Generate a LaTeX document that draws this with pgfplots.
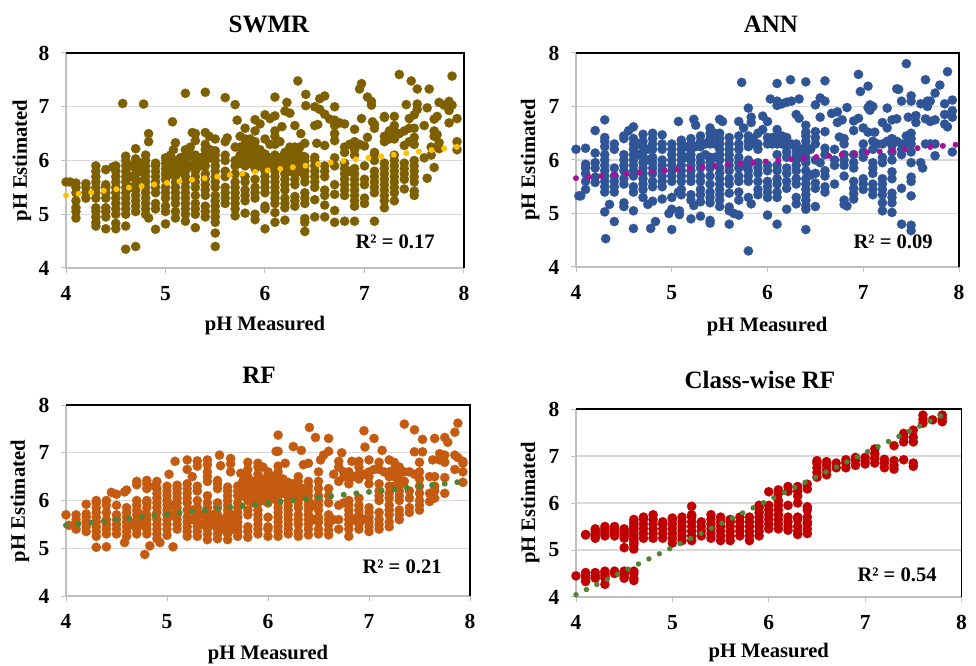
\documentclass[border=0pt]{standalone}
\usepackage{pgfplots}
\pgfplotsset{compat=1.18}
\usepackage{fontspec}
\setmainfont{Liberation Serif}
\definecolor{axgray}{HTML}{BFBFBF}
\definecolor{grgray}{HTML}{D9D9D9}
\definecolor{cA}{HTML}{7F6000}
\definecolor{tA}{HTML}{FFC000}
\definecolor{cB}{HTML}{2F5597}
\definecolor{tB}{HTML}{A5129A}
\definecolor{cC}{HTML}{C55A11}
\definecolor{tC}{HTML}{548235}
\definecolor{cD}{HTML}{C00000}
\definecolor{tD}{HTML}{548235}
\newcommand{\tf}{\bfseries\fontsize{21.5bp}{24bp}\selectfont}
\newcommand{\lf}{\bfseries\fontsize{20.6bp}{24bp}\selectfont}
\newcommand{\Tf}{\bfseries\fontsize{25bp}{28bp}\selectfont}
\pgfplotsset{
 panel/.style={
  scale only axis, anchor=south west, clip=false,
  xmin=4,xmax=8,ymin=4,ymax=8,
  xtick={4,5,6,7,8},ytick={4,5,6,7,8},
  xtick pos=bottom, ytick pos=left,
  axis line style={draw=none},
  tick align=outside, major tick length=5bp,
  tick style={color=axgray,line width=1bp},
  ymajorgrids, major grid style={color=grgray,line width=1.2bp},
  /pgf/number format/assume math mode=true,
  tick label style={font=\tf},
  yticklabel style={xshift=-8bp},
  xticklabel style={yshift=-10bp},
  title style={font=\Tf,anchor=center},
  xlabel style={font=\lf,anchor=center},
  ylabel style={font=\lf,anchor=center},
 },
 over/.style={scale only axis, anchor=south west, clip=false, xmin=4,xmax=8,ymin=4,ymax=8, hide axis},
 pts/.style={only marks,mark=*,mark size=4.7bp,color=#1,mark options={draw=#1,fill=#1,line width=0.1bp}},
 trend/.style={no markers,draw=#1,line width=6bp,line cap=round,dash pattern=on 0pt off 12.7bp},
 lgray/.style={no markers,draw=axgray,line width=1.5bp},
 lblack/.style={no markers,draw=black,line width=1.3bp},
}
\begin{document}
\begin{tikzpicture}
\useasboundingbox (0,0) rectangle (976bp,666bp);
%---------------- SWMR
\begin{axis}[panel,at={(66bp,398bp)},width=398bp,height=215bp,
 title={SWMR},title style={at={(axis description cs:0.51,1.105)}},
 xlabel={pH Measured},xlabel style={at={(axis description cs:0.5,-0.27)}},
 ylabel={pH Estimated},ylabel style={at={(axis description cs:-0.111,0.5)}}]
\addplot[lgray] coordinates {(4,8)(4,4)(8,4)};
\addplot[lblack] coordinates {(4,8)(8,8)(8,4)};
\addplot[pts=cA] coordinates {
(4,5.6)(4.04,5.6)
(4.1,4.93)(4.1,5.05)(4.1,5.12)(4.1,5.25)(4.1,5.4)(4.1,5.5)(4.1,5.58)
(4.2,5.3)(4.2,5.4)(4.2,5.5)(4.2,5.57)
(4.3,4.78)(4.3,4.85)(4.3,4.95)(4.3,5.05)(4.3,5.12)(4.3,5.3)(4.3,5.4)(4.3,5.5)(4.3,5.6)(4.3,5.7)(4.3,5.8)(4.3,5.9)
(4.4,4.73)(4.4,4.95)(4.4,5.05)(4.4,5.12)(4.4,5.3)(4.4,5.4)(4.4,5.5)(4.4,5.55)(4.4,5.83)(4.47,5.88)
(4.5,4.73)(4.5,4.83)(4.5,5)(4.5,5.1)(4.5,5.2)(4.5,5.3)(4.5,5.4)(4.5,5.5)(4.5,5.6)(4.5,5.7)(4.5,5.8)(4.5,5.9)
(4.57,7.06)
(4.6,4.35)(4.6,4.78)(4.6,5)(4.6,5.1)(4.6,5.2)(4.6,5.3)(4.6,5.4)(4.6,5.5)(4.6,5.6)(4.6,5.7)(4.6,5.8)(4.6,5.9)(4.6,6)(4.6,6.08)
(4.7,4.4)(4.7,5.05)(4.7,5.15)(4.7,5.25)(4.7,5.35)(4.7,5.45)(4.7,5.55)(4.7,5.65)(4.7,5.75)(4.7,5.85)(4.7,5.95)(4.7,6.03)(4.7,6.22)
(4.78,7.05)
(4.8,5)(4.8,5.1)(4.8,5.2)(4.8,5.3)(4.8,5.4)(4.8,5.5)(4.8,5.6)(4.8,5.7)(4.8,5.8)(4.8,5.9)(4.8,6)(4.8,6.1)(4.83,6.35)(4.83,6.5)(4.83,4.93)
(4.9,4.72)(4.9,5.1)(4.9,5.2)(4.9,5.4)(4.9,5.5)(4.9,5.6)(4.9,5.7)(4.9,5.8)(4.9,5.9)(4.9,5.95)
(5,4.82)(5,5.05)(5,5.15)(5,5.3)(5,5.4)(5,5.5)(5,5.65)(5,5.75)(5,5.85)(5,5.95)(5,6.05)
(5.07,6.72)(5.05,6.1)(5.08,6.2)
(5.1,4.93)(5.1,5.05)(5.1,5.2)(5.1,5.3)(5.1,5.4)(5.1,5.5)(5.1,5.6)(5.1,5.7)(5.1,5.8)(5.1,5.9)(5.1,6)(5.1,6.33)
(5.2,4.87)(5.2,5)(5.2,5.1)(5.2,5.2)(5.2,5.3)(5.2,5.4)(5.2,5.5)(5.2,5.6)(5.2,5.7)(5.2,5.8)(5.2,5.9)(5.2,6)(5.2,6.1)(5.2,6.2)(5.2,7.25)
(5.25,6.25)(5.27,6.52)
(5.3,4.75)(5.3,5)(5.3,5.1)(5.3,5.2)(5.3,5.35)(5.3,5.5)(5.3,5.6)(5.3,5.7)(5.3,5.8)(5.3,5.9)(5.3,6)(5.3,6.1)(5.3,6.37)(5.3,6.5)
(5.4,4.95)(5.4,5.05)(5.4,5.15)(5.4,5.35)(5.4,5.45)(5.4,5.55)(5.4,5.65)(5.4,5.75)(5.4,5.9)(5.4,6)(5.4,6.1)(5.4,6.2)(5.4,6.3)(5.4,6.52)(5.4,7.27)
(5.44,6.45)
(5.5,4.4)(5.5,4.65)(5.5,4.85)(5.5,4.95)(5.5,5.05)(5.5,5.15)(5.5,5.25)(5.5,5.35)(5.5,5.5)(5.5,5.6)(5.5,5.7)(5.5,5.8)(5.5,5.9)(5.5,6)(5.5,6.1)(5.5,6.18)(5.5,6.4)
(5.6,5.2)(5.6,5.3)(5.6,5.4)(5.6,5.5)(5.6,5.7)(5.6,5.8)(5.6,6)(5.6,6.1)(5.6,6.35)(5.6,7.17)(5.62,6.42)
(5.7,4.97)(5.7,5.1)(5.7,5.2)(5.7,5.3)(5.7,5.4)(5.7,5.5)(5.7,5.6)(5.7,5.75)(5.7,5.9)(5.7,6)(5.7,6.25)(5.7,7.04)(5.72,6.75)(5.75,6.45)
(5.8,5.02)(5.8,5.25)(5.8,5.35)(5.8,5.45)(5.8,5.6)(5.8,5.7)(5.8,5.9)(5.8,6)(5.8,6.1)(5.8,6.2)(5.8,6.3)(5.8,6.4)(5.8,6.6)
(5.9,4.9)(5.9,5)(5.9,5.3)(5.9,5.4)(5.9,5.5)(5.9,5.65)(5.9,5.85)(5.9,5.95)(5.9,6.05)(5.9,6.15)(5.9,6.25)(5.9,6.35)(5.9,6.55)(5.9,6.76)(5.95,6.68)
(6,4.73)(6,5.1)(6,5.15)(6,5.4)(6,5.5)(6,5.6)(6,5.7)(6,5.8)(6,5.9)(6,6)(6,6.12)(6,6.4)(6,6.85)
(6.1,4.85)(6.1,5.03)(6.1,5.2)(6.1,5.3)(6.1,5.4)(6.1,5.5)(6.1,5.6)(6.1,5.7)(6.1,5.8)(6.1,5.9)(6.1,6)(6.1,6.1)(6.1,6.3)(6.1,6.45)(6.1,6.55)(6.1,6.83)(6.1,7.18)
(6.05,6.78)(6.17,6.63)
(6.2,4.89)(6.2,5.12)(6.2,5.2)(6.2,5.3)(6.2,5.45)(6.2,5.55)(6.2,5.65)(6.2,5.75)(6.2,5.85)(6.2,5.95)(6.2,6.05)(6.2,6.15)(6.2,6.92)(6.25,6.88)(6.22,7.08)
(6.3,5.15)(6.3,5.25)(6.3,5.33)(6.3,5.55)(6.3,5.65)(6.3,5.75)(6.3,5.85)(6.3,5.95)(6.3,6.05)(6.3,6.15)(6.3,6.25)(6.3,6.65)(6.33,7.48)(6.36,6.5)
(6.4,4.68)(6.4,4.85)(6.4,4.92)(6.4,5.2)(6.4,5.3)(6.4,5.4)(6.4,5.6)(6.4,5.7)(6.4,5.8)(6.4,5.9)(6.4,6)(6.4,6.07)(6.4,6.32)(6.41,7.02)(6.41,7.23)
(6.5,4.95)(6.5,5.27)(6.5,5.5)(6.5,5.6)(6.5,5.7)(6.5,5.8)(6.5,5.9)(6.5,6)(6.5,6.06)(6.5,6.65)(6.5,7)
(6.52,6.32)(6.53,6.67)(6.55,6.95)(6.55,7.15)(6.6,7.2)
(6.6,4.95)(6.6,5.17)(6.6,5.35)(6.6,5.45)(6.6,5.7)(6.6,5.8)(6.6,5.9)(6.6,6.28)(6.6,6.86)(6.65,6.77)
(6.7,4.85)(6.7,5.07)(6.7,5.37)(6.7,5.55)(6.7,5.9)(6.7,6.05)(6.7,6.37)(6.7,6.5)(6.7,6.65)(6.7,6.75)(6.7,7)(6.75,6.7)
(6.8,4.87)(6.8,5.35)(6.8,5.45)(6.8,5.55)(6.8,5.65)(6.8,5.75)(6.8,5.85)(6.8,5.95)(6.8,6.15)(6.8,6.25)(6.8,6.68)
(6.9,4.87)(6.9,5.15)(6.9,5.25)(6.9,5.35)(6.9,5.45)(6.9,5.55)(6.9,5.65)(6.9,5.75)(6.9,5.85)(6.9,6.1)(6.9,6.2)(6.9,6.35)(6.9,6.58)
(6.95,7.33)(6.97,7.43)(6.97,6.78)
(7,5.2)(7,5.3)(7,5.55)(7,5.65)(7,5.9)(7,6.27)(7.03,6.43)(7.03,7.18)(7.07,7.1)(7.07,7.03)
(7.1,4.87)(7.1,5.4)(7.1,5.5)(7.1,5.6)(7.1,5.7)(7.1,5.8)(7.1,6)(7.1,6.1)(7.1,6.15)(7.1,6.6)(7.1,6.67)(7.08,6.72)
(7.2,5.12)(7.2,5.25)(7.2,5.35)(7.2,5.45)(7.2,5.55)(7.2,5.65)(7.2,5.75)(7.2,5.85)(7.2,5.95)(7.2,6.35)(7.2,6.45)(7.2,6.8)(7.2,6.82)
(7.3,5.25)(7.3,5.4)(7.3,5.5)(7.3,5.6)(7.3,5.7)(7.3,5.8)(7.3,5.9)(7.3,6)(7.3,6.1)(7.3,6.4)(7.3,6.55)(7.3,6.65)(7.3,6.82)(7.35,7.6)
(7.4,5.47)(7.4,5.65)(7.4,5.75)(7.4,5.85)(7.4,5.95)(7.4,6.28)(7.4,6.55)(7.42,7.04)(7.45,6.78)(7.47,7.48)
(7.5,6.85)(7.5,5.35)(7.5,5.43)(7.5,5.6)(7.5,5.7)(7.5,5.8)(7.5,5.9)(7.5,6)(7.5,6.3)(7.5,6.43)(7.5,6.6)(7.53,7.05)(7.53,6.95)(7.53,7.33)
(7.6,6.05)(7.6,6.65)(7.65,7.33)(7.63,5.67)(7.67,6.1)(7.67,6.25)(7.63,6.98)
(7.7,5.87)(7.7,6.45)(7.7,6.55)(7.7,6.77)(7.73,6.82)(7.73,6.48)(7.75,7.08)(7.75,6.22)(7.75,6.33)(7.8,7.03)
(7.85,7.08)(7.85,7.1)(7.85,7)(7.85,6.93)(7.85,6.7)(7.88,7.57)(7.88,7.03)(7.93,6.2)(7.93,6.35)(7.93,6.78)
(5.05,5.75)(5.05,5.85)(5.05,5.95)(5.05,6)(5.15,5.8)(5.15,5.95)(5.15,6.05)(5.25,5.9)(5.25,6.1)(5.35,5.9)(5.35,6.05)(5.45,6.05)(5.45,6.2)
(5.75,5.95)(5.75,6.1)(5.75,6.25)(5.85,5.95)(5.85,6.1)(5.85,6.25)(5.85,6.4)(5.95,5.9)(5.95,6.05)(5.95,6.2)(6.05,5.9)(6.05,6.05)(6.05,6.3)
(6.15,5.9)(6.15,6.05)(6.15,6.35)(6.25,5.8)(6.25,5.95)(6.25,6.1)(6.25,6.25)(6.35,5.8)(6.35,5.95)(6.35,6.1)(6.35,6.25)
(6.85,6.3)(6.85,5.8)(6.95,6.3)(7.25,6.55)(7.25,6.4)(7.35,6.5)(7.45,6.35)(7.45,6.6)(4.65,5.5)(4.65,5.7)(4.65,5.9)(4.75,5.6)(4.75,5.8)(4.75,5.95)
};
\node[font=\lf] at (axis description cs:0.827,0.122) {R² = 0.17};
\end{axis}
\begin{axis}[over,at={(66bp,398bp)},width=398bp,height=215bp]
\addplot[trend=tA] coordinates {(4,5.35)(8,6.27)};
\end{axis}
%---------------- ANN
\begin{axis}[panel,at={(576bp,399bp)},width=383bp,height=214bp,
 title={ANN},title style={at={(axis description cs:0.509,1.106)}},
 xlabel={pH Measured},xlabel style={at={(axis description cs:0.499,-0.276)}},
 ylabel={pH Estimated},ylabel style={at={(axis description cs:-0.12,0.5)}}]
\addplot[lgray] coordinates {(4,8)(4,4)(8,4)};
\addplot[lblack] coordinates {(4,8)(8,8)(8,4)};
\addplot[pts=cB] coordinates {
(4,6.2)(4.03,5.33)(4.05,5.33)
(4.1,5.45)(4.1,5.6)(4.1,5.75)(4.1,5.85)(4.1,5.92)(4.1,6.22)
(4.2,5.58)(4.2,5.68)(4.2,5.85)(4.2,5.95)(4.2,6.13)(4.2,6.55)
(4.3,5.03)(4.31,4.53)(4.3,5.4)(4.3,5.5)(4.3,5.6)(4.3,5.7)(4.3,5.8)(4.3,5.9)(4.3,6)(4.3,6.1)(4.3,6.25)(4.3,6.35)(4.3,6.42)(4.3,6.75)(4.35,5.17)
(4.4,4.85)(4.4,5.4)(4.4,5.5)(4.4,5.6)(4.4,5.7)(4.4,5.85)(4.4,6.2)(4.4,6.3)
(4.5,5.13)(4.5,5.2)(4.5,5.55)(4.5,5.65)(4.5,5.8)(4.5,5.9)(4.5,6)(4.5,6.1)(4.5,6.4)(4.5,6.45)(4.55,6.55)
(4.6,4.72)(4.6,5.05)(4.6,5.4)(4.6,5.5)(4.6,5.7)(4.6,5.8)(4.6,5.9)(4.6,6)(4.6,6.1)(4.6,6.2)(4.6,6.3)(4.6,6.4)(4.6,6.62)
(4.7,5.3)(4.7,5.45)(4.7,5.55)(4.7,5.65)(4.7,5.75)(4.7,5.85)(4.7,5.95)(4.7,6.05)(4.7,6.15)(4.7,6.25)(4.7,6.35)(4.7,6.48)(4.75,5.17)(4.78,4.72)
(4.8,5.23)(4.8,5.5)(4.8,5.6)(4.8,5.75)(4.8,5.85)(4.8,5.95)(4.8,6.05)(4.8,6.2)(4.8,6.3)(4.8,6.4)(4.8,6.5)(4.83,4.85)
(4.9,5.27)(4.9,5.5)(4.9,5.6)(4.9,5.7)(4.9,5.8)(4.9,5.9)(4.9,6)(4.9,6.2)(4.9,6.3)(4.9,6.47)(4.97,5)
(5,4.7)(5,5.08)(5,5.3)(5,5.6)(5,5.7)(5,5.8)(5,5.9)(5,6)(5,6.1)(5,6.2)(5,6.3)
(5.08,5.05)(5.08,4.98)(5.07,5.4)(5.07,6.72)
(5.1,5.35)(5.1,5.45)(5.1,5.6)(5.1,5.7)(5.1,5.8)(5.1,5.9)(5.1,6)(5.1,6.1)(5.1,6.2)(5.1,6.3)(5.1,6.37)
(5.2,4.9)(5.2,5.25)(5.2,5.35)(5.2,5.6)(5.2,5.7)(5.2,5.8)(5.2,5.9)(5.2,6)(5.2,6.1)(5.2,6.2)(5.2,6.3)(5.2,6.4)(5.23,5.15)(5.23,6.76)(5.25,6.65)
(5.3,4.95)(5.3,5.22)(5.3,5.35)(5.3,5.45)(5.3,5.6)(5.3,5.7)(5.3,5.85)(5.3,5.95)(5.3,6.05)(5.3,6.25)(5.3,6.35)(5.3,6.45)
(5.4,4.82)(5.4,4.87)(5.4,5.2)(5.4,5.3)(5.4,5.4)(5.4,5.55)(5.4,5.7)(5.4,5.85)(5.4,5.95)(5.4,6.05)(5.4,6.3)(5.4,6.4)(5.4,6.5)(5.4,6.6)
(5.5,5.13)(5.5,5.25)(5.5,5.35)(5.5,5.45)(5.5,5.55)(5.5,5.65)(5.5,5.75)(5.5,5.85)(5.5,6)(5.5,6.1)(5.5,6.2)(5.5,6.3)(5.5,6.4)(5.5,6.5)(5.5,6.76)(5.53,6.72)
(5.6,4.8)(5.6,5.05)(5.6,5.12)(5.6,5.38)(5.6,5.55)(5.6,5.65)(5.6,5.8)(5.6,5.9)(5.6,6)(5.6,6.1)(5.6,6.2)(5.6,6.3)(5.6,6.42)(5.65,5)
(5.7,4.97)(5.7,5.25)(5.7,5.4)(5.7,5.6)(5.7,5.7)(5.7,5.85)(5.7,5.95)(5.7,6.05)(5.7,6.2)(5.7,6.3)(5.7,6.45)(5.7,6.72)(5.73,7.45)(5.75,6.6)
(5.8,4.3)(5.8,5.3)(5.8,5.6)(5.8,5.7)(5.8,5.8)(5.8,5.9)(5.8,6)(5.8,6.25)(5.8,6.35)(5.8,6.45)(5.8,6.97)(5.83,5.18)(5.83,6.7)(5.83,6.8)
(5.9,5.35)(5.9,5.45)(5.9,5.6)(5.9,5.75)(5.9,5.85)(5.9,5.95)(5.9,6.2)(5.9,6.3)(5.9,6.5)(5.95,6.82)(5.95,6.57)
(6,4.97)(6,5.3)(6,5.4)(6,5.5)(6,5.6)(6,5.8)(6,5.9)(6,6.3)(6,6.42)(6,6.72)(6.03,7.14)
(6.1,4.8)(6.1,5.3)(6.1,5.4)(6.1,5.55)(6.1,5.65)(6.1,5.8)(6.1,5.9)(6.1,6.1)(6.1,6.3)(6.1,6.45)(6.1,6.57)(6.1,7.43)(6.1,7.1)(6.1,7.02)(6.15,7.05)
(6.2,5.08)(6.2,5.47)(6.2,5.6)(6.2,5.75)(6.2,5.85)(6.2,6.05)(6.2,6.15)(6.2,6.25)(6.2,6.42)(6.2,7.08)(6.24,7.5)(6.25,7.1)
(6.3,5.18)(6.3,5.3)(6.3,5.55)(6.3,5.65)(6.3,5.8)(6.3,5.9)(6.3,6)(6.3,6.1)(6.3,6.2)(6.3,6.3)(6.3,6.85)(6.33,7.14)(6.33,6.78)
(6.4,4.7)(6.4,5.08)(6.4,5.15)(6.4,5.25)(6.4,5.35)(6.4,5.45)(6.4,5.55)(6.4,5.65)(6.4,5.8)(6.4,5.95)(6.4,6.05)(6.4,6.15)(6.4,6.25)(6.4,6.35)(6.4,6.45)(6.4,6.52)(6.4,6.65)(6.4,7.46)(6.45,5.72)
(6.5,5.13)(6.5,5.47)(6.5,5.57)(6.5,5.75)(6.5,6)(6.5,6.3)(6.5,6.42)(6.5,6.53)(6.5,7.03)(6.55,6.8)(6.55,7.16)
(6.6,5.4)(6.6,5.5)(6.6,5.7)(6.6,5.8)(6.6,6.1)(6.6,6.22)(6.6,6.53)(6.6,7.1)(6.6,7.48)(6.67,6.87)
(6.7,5.55)(6.7,5.9)(6.7,6)(6.7,6.2)(6.73,6.9)(6.73,6.7)(6.75,6.43)(6.78,6.75)
(6.8,5.17)(6.8,5.25)(6.8,5.7)(6.8,5.9)(6.8,6)(6.8,6.1)(6.8,6.3)(6.8,6.4)(6.83,5.14)(6.83,6.98)
(6.9,5.27)(6.9,5.37)(6.9,5.47)(6.9,5.6)(6.9,5.85)(6.9,5.95)(6.9,6.1)(6.9,6.55)(6.9,6.73)(6.95,7.6)(6.95,6.78)(6.97,7.28)
(7,5.45)(7,5.55)(7,5.65)(7,6.05)(7,6.15)(7,6.3)(7,6.6)(7.05,6.52)(7.05,6.98)(7.07,7.03)(7.07,6.93)(7.05,7.38)
(7.1,5.35)(7.1,5.45)(7.1,5.55)(7.1,5.75)(7.1,5.85)(7.1,5.95)(7.1,6.2)(7.1,6.35)(7.1,7)(7.12,6.52)
(7.2,5.05)(7.2,5.2)(7.2,5.35)(7.2,5.45)(7.2,5.55)(7.2,5.65)(7.2,5.95)(7.2,6.05)(7.2,6.3)(7.2,6.7)(7.25,6.6)(7.25,6.97)
(7.3,5.02)(7.3,5.2)(7.3,5.3)(7.3,5.38)(7.3,5.65)(7.3,5.78)(7.3,6)(7.3,6.15)(7.3,6.27)(7.3,6.4)(7.3,6.75)(7.35,6.77)(7.35,7.33)(7.37,7.32)
(7.4,4.8)(7.4,5.47)(7.4,6.1)(7.4,6.2)(7.4,6.3)(7.4,7.1)(7.45,7.8)(7.45,6.45)(7.47,6.8)
(7.5,4.68)(7.5,4.78)(7.5,5.33)(7.5,5.6)(7.5,5.68)(7.5,5.95)(7.5,6.15)(7.5,6.3)(7.5,6.4)(7.5,6.5)(7.5,7.1)(7.5,7.2)(7.55,6.7)(7.55,6.83)
(7.6,5.95)(7.6,7.05)(7.62,5.85)(7.65,6.77)(7.65,7.05)(7.65,7.5)(7.65,6.3)(7.67,7)(7.67,7.1)
(7.7,6.3)(7.7,7.1)(7.7,6.72)(7.75,6.75)(7.75,7.25)(7.75,6.3)(7.75,6.08)(7.8,7.4)
(7.85,6.85)(7.85,6.67)(7.88,6.62)(7.88,7.65)(7.85,7.05)(7.93,6.15)(7.93,6.8)(7.93,6.92)(7.93,7.12)
(4.65,6.1)(4.65,6.3)(4.75,6.2)(4.75,6)(5.15,6.05)(5.15,6.25)(5.35,6.1)(5.35,6.3)(5.45,6.3)(5.45,6.5)(5.45,6.05)(5.85,6.3)(5.85,6.4)(6.05,6.3)(6.05,6.42)(6.15,6.3)(6.15,6.45)(6.25,6.3)(6.35,6.05)(6.35,6.2)(6.45,6.2)(7.25,6.35)(7.35,6.35)(7.45,6.3)(7.15,6.3)(5.25,6.25)(5.75,5.9)(6.55,5.95)
};
\node[font=\lf] at (axis description cs:0.828,0.117) {R² = 0.09};
\end{axis}
\begin{axis}[over,at={(576bp,399bp)},width=383bp,height=214bp]
\addplot[trend=tB] coordinates {(4,5.66)(8,6.29)};
\end{axis}
%---------------- RF
\begin{axis}[panel,at={(66bp,70bp)},width=404bp,height=191bp,
 title={RF},title style={at={(axis description cs:0.478,1.122)}},
 xlabel={pH Measured},xlabel style={at={(axis description cs:0.5,-0.304)}},
 ylabel={pH Estimated},ylabel style={at={(axis description cs:-0.114,0.497)}}]
\addplot[lgray] coordinates {(4,8)(4,4)(8,4)};
\addplot[lblack] coordinates {(4,8)(8,8)(8,4)};
\addplot[pts=cC] coordinates {
(4,5.7)(4.03,5.48)
(4.1,5.4)(4.1,5.5)(4.1,5.6)(4.1,5.7)
(4.2,5.35)(4.2,5.45)(4.2,5.55)(4.2,5.65)(4.2,5.72)(4.2,5.92)
(4.3,5.02)(4.3,5.25)(4.3,5.35)(4.3,5.45)(4.3,5.55)(4.3,5.65)(4.3,5.75)(4.3,5.85)(4.3,5.95)(4.3,6)
(4.4,5.03)(4.4,5.3)(4.4,5.4)(4.4,5.5)(4.4,5.6)(4.4,5.75)(4.4,5.9)(4.4,6)(4.45,6.17)
(4.5,5.3)(4.5,5.4)(4.5,5.5)(4.5,5.6)(4.5,5.7)(4.5,5.9)(4.5,6.13)(4.58,5.12)(4.58,6.18)
(4.6,5.25)(4.6,5.35)(4.6,5.45)(4.6,5.55)(4.6,5.65)(4.6,5.75)(4.6,5.85)(4.6,6.22)
(4.7,5.3)(4.7,5.4)(4.7,5.5)(4.7,5.6)(4.7,5.7)(4.7,5.8)(4.7,5.9)(4.7,6)(4.7,6.33)(4.7,6.4)(4.78,4.87)
(4.8,5.3)(4.8,5.4)(4.8,5.5)(4.8,5.6)(4.8,5.7)(4.8,5.85)(4.8,5.95)(4.8,6)(4.8,6.25)(4.8,6.35)(4.8,6.42)(4.83,5.05)(4.88,6.3)
(4.9,5.2)(4.9,5.3)(4.9,5.4)(4.9,5.5)(4.9,5.6)(4.9,5.75)(4.9,5.85)(4.9,5.95)(4.9,6.05)(4.9,6.15)(4.9,6.25)(4.9,6.4)(4.93,5.12)
(5,5.27)(5,5.4)(5,5.5)(5,5.6)(5,5.7)(5,5.8)(5,5.9)(5,6)(5,6.1)(5,6.2)(5,6.3)(5.02,6.55)(5.06,5.03)(5.08,6.82)
(5.1,5.4)(5.1,5.5)(5.1,5.6)(5.1,5.7)(5.1,5.85)(5.1,5.95)(5.1,6.05)(5.1,6.15)(5.1,6.25)(5.1,6.32)
(5.2,5.25)(5.2,5.35)(5.2,5.45)(5.2,5.55)(5.2,5.65)(5.2,5.8)(5.2,5.95)(5.2,6.05)(5.2,6.15)(5.2,6.25)(5.2,6.35)(5.2,6.65)(5.2,6.85)(5.25,6.5)
(5.3,5.25)(5.3,5.35)(5.3,5.45)(5.3,5.55)(5.3,5.65)(5.3,5.75)(5.3,5.85)(5.3,6)(5.3,6.2)(5.3,6.3)(5.3,6.72)(5.3,6.83)
(5.4,5.18)(5.4,5.3)(5.4,5.4)(5.4,5.5)(5.4,5.6)(5.4,5.7)(5.4,5.85)(5.4,5.95)(5.4,6.1)(5.4,6.4)(5.4,6.5)(5.4,6.6)(5.4,6.75)(5.4,6.85)
(5.5,5.2)(5.5,5.3)(5.5,5.4)(5.5,5.5)(5.5,5.6)(5.5,5.7)(5.5,5.85)(5.5,5.95)(5.5,6.25)(5.5,6.35)(5.5,6.42)(5.52,6.95)(5.53,6.73)
(5.6,5.18)(5.6,5.3)(5.6,5.4)(5.6,5.5)(5.6,5.6)(5.6,5.7)(5.6,5.8)(5.6,5.9)(5.6,6)(5.6,6.1)(5.6,6.2)(5.6,6.28)(5.63,6.6)(5.63,6.77)(5.63,6.88)
(5.7,5.25)(5.7,5.35)(5.7,5.45)(5.7,5.55)(5.7,5.65)(5.7,5.75)(5.7,5.85)(5.7,5.95)(5.7,6.1)(5.7,6.2)(5.7,6.3)(5.73,6.57)
(5.8,5.23)(5.8,5.35)(5.8,5.45)(5.8,5.7)(5.8,5.8)(5.8,6)(5.8,6.1)(5.8,6.2)(5.8,6.3)(5.8,6.4)(5.8,6.5)(5.8,6.65)(5.8,6.8)
(5.9,5.3)(5.9,5.4)(5.9,5.5)(5.9,5.6)(5.9,5.7)(5.9,5.8)(5.9,5.95)(5.9,6.05)(5.9,6.15)(5.9,6.25)(5.9,6.35)(5.9,6.45)(5.9,6.55)(5.9,6.7)(5.9,6.78)(5.95,6.7)
(6,5.25)(6,5.4)(6,5.45)(6,5.65)(6,5.95)(6,6.05)(6,6.15)(6,6.3)(6,6.4)(6,6.5)(6,6.6)
(6.1,5.25)(6.1,5.35)(6.1,5.45)(6.1,5.55)(6.1,5.65)(6.1,5.75)(6.1,5.85)(6.1,5.95)(6.1,6.1)(6.1,6.2)(6.1,6.3)(6.1,6.4)(6.1,6.5)(6.1,6.6)(6.1,6.72)(6.1,7.03)(6.1,7.37)(6.08,7.03)(6.17,6.78)
(6.2,5.3)(6.2,5.4)(6.2,5.5)(6.2,5.6)(6.2,5.7)(6.2,5.8)(6.2,5.9)(6.2,6)(6.2,6.1)(6.2,6.2)(6.2,6.3)(6.2,6.38)(6.25,7.13)
(6.3,5.25)(6.3,5.35)(6.3,5.5)(6.3,5.6)(6.3,5.7)(6.3,5.85)(6.3,5.95)(6.3,6.05)(6.3,6.2)(6.3,6.3)(6.3,6.4)(6.3,6.5)(6.33,7.05)(6.35,6.75)
(6.4,5.28)(6.4,5.4)(6.4,5.5)(6.4,5.6)(6.4,5.7)(6.4,5.8)(6.4,5.9)(6.4,6)(6.4,6.1)(6.4,6.2)(6.4,6.3)(6.4,6.4)(6.4,6.78)(6.41,7.53)(6.47,7.32)
(6.5,5.3)(6.5,5.4)(6.5,5.55)(6.5,5.65)(6.5,5.8)(6.5,5.9)(6.5,6)(6.5,6.1)(6.5,6.25)(6.5,6.4)(6.5,6.6)(6.52,6.85)(6.55,6.95)
(6.6,5.28)(6.6,5.38)(6.6,5.5)(6.6,5.6)(6.6,5.7)(6.6,5.95)(6.6,6.1)(6.6,6.25)(6.6,7.03)(6.6,7.3)(6.65,6.55)
(6.7,5.4)(6.7,5.6)(6.7,5.9)(6.7,6.4)(6.7,6.7)(6.7,6.82)(6.73,7)(6.75,5.95)(6.75,6.5)(6.75,6.6)
(6.8,5.25)(6.8,5.4)(6.8,5.5)(6.8,5.6)(6.8,5.7)(6.8,5.8)(6.8,5.9)(6.8,6)(6.8,6.35)(6.8,6.45)(6.8,6.6)(6.83,6.82)
(6.9,5.4)(6.9,5.5)(6.9,5.6)(6.9,5.7)(6.9,5.8)(6.9,5.9)(6.9,6.05)(6.9,6.45)(6.9,6.55)(6.9,6.7)(6.9,6.82)(6.95,7.46)(6.96,7.12)
(7,5.35)(7,5.45)(7,5.55)(7,5.65)(7,5.75)(7,5.85)(7,6.35)(7,6.5)(7,6.6)(7,6.85)(7.05,6.65)(7.05,7.3)
(7.1,5.4)(7.1,5.5)(7.1,5.6)(7.1,5.75)(7.1,6)(7.1,6.1)(7.1,6.2)(7.1,6.35)(7.1,6.65)(7.1,6.8)(7.13,7.05)
(7.2,5.45)(7.2,5.55)(7.2,5.7)(7.2,5.8)(7.2,5.9)(7.2,6.05)(7.2,6.15)(7.2,6.3)(7.2,6.5)(7.2,6.6)(7.2,6.85)(7.25,6.8)
(7.3,5.6)(7.3,5.7)(7.3,5.8)(7.3,6)(7.3,6.1)(7.3,6.2)(7.3,6.3)(7.3,6.4)(7.3,6.55)(7.3,6.7)(7.35,7.6)
(7.4,5.75)(7.4,5.85)(7.4,6.05)(7.4,6.2)(7.4,6.6)(7.45,7.48)(7.45,7.02)(7.45,6.55)
(7.5,5.8)(7.5,5.9)(7.5,6)(7.5,6.15)(7.5,6.3)(7.5,6.45)(7.5,6.6)(7.5,6.8)(7.53,7.02)(7.53,7.28)
(7.6,5.98)(7.6,6.15)(7.6,6.5)(7.63,6.85)(7.65,6.05)(7.65,6.2)(7.65,6.3)(7.65,6.5)(7.65,7.3)
(7.7,6.98)(7.7,6.85)(7.75,6.15)(7.75,6.48)(7.75,6.8)(7.75,6.95)(7.75,7.32)(7.78,7.22)
(7.85,6.65)(7.85,6.95)(7.85,7.43)(7.88,6.9)(7.88,7.62)(7.93,6.38)(7.93,6.6)(7.93,6.78)(7.93,6.82)
(5.75,6.25)(5.75,6.4)(5.75,6.1)(5.85,6.1)(5.85,6.25)(5.85,6.4)(5.85,5.95)(5.95,6)(5.95,6.15)(5.95,6.3)(5.95,6.45)(6.05,6.05)(6.05,6.2)(6.05,6.35)(6.05,6.5)(6.15,6.15)(6.15,6.3)(6.15,6.45)(6.25,6.05)(6.25,6.2)(6.25,6.35)(6.35,6.1)(6.35,6.25)
(5.65,5.4)(5.65,5.55)(5.65,5.7)(5.25,5.6)(5.25,5.8)(5.35,5.5)(5.35,5.7)(5.45,5.5)(5.45,5.7)(5.55,5.4)(5.55,5.6)(5.05,5.7)(5.05,5.9)(4.75,5.5)(4.75,5.7)(4.65,5.5)(6.45,5.6)(6.45,5.9)
(6.85,5.6)(6.95,5.6)(7.25,6.3)(7.25,6.5)(7.25,6.65)(7.35,6.4)(7.35,6.6)(7.15,6.6)(6.95,6.55)(6.85,6.5)(6.65,5.6)
};
\node[font=\lf] at (axis description cs:0.832,0.152) {R² = 0.21};
\end{axis}
\begin{axis}[over,at={(66bp,70bp)},width=404bp,height=191bp]
\addplot[trend=tC] coordinates {(4,5.48)(7.95,6.4)};
\end{axis}
%---------------- Class-wise RF
\begin{axis}[panel,at={(576bp,69bp)},width=385.5bp,height=188bp,
 title={Class-wise RF},title style={at={(axis description cs:0.477,1.123)}},
 xlabel={pH Measured},xlabel style={at={(axis description cs:0.5,-0.298)}},
 ylabel={pH Estimated},ylabel style={at={(axis description cs:-0.119,0.5)}}]
\addplot[lgray] coordinates {(4,8)(4,4)(8,4)};
\addplot[lblack] coordinates {(4,8)(8,8)(8,4)};
\addplot[pts=cD] coordinates {
(4,4.45)
(4.1,4.33)(4.1,4.4)(4.1,4.45)(4.1,4.52)(4.1,5.32)(4.1,5.33)
(4.2,4.4)(4.2,4.45)(4.2,4.52)(4.2,5.25)(4.2,5.3)(4.2,5.35)(4.2,5.4)(4.2,5.45)
(4.3,4.27)(4.3,4.4)(4.3,4.45)(4.3,4.5)(4.3,4.55)(4.3,5.3)(4.3,5.35)(4.3,5.4)(4.3,5.45)(4.3,5.5)
(4.4,4.5)(4.4,4.55)(4.4,5.3)(4.4,5.35)(4.4,5.4)(4.4,5.45)(4.4,5.5)
(4.5,4.4)(4.5,4.45)(4.5,4.5)(4.5,4.55)(4.5,5.05)(4.5,5.25)(4.5,5.3)(4.5,5.35)(4.5,5.4)(4.5,5.45)
(4.6,4.35)(4.6,4.4)(4.6,4.5)(4.6,4.55)(4.6,5.02)(4.6,5.1)(4.6,5.15)(4.6,5.2)(4.6,5.25)(4.6,5.3)(4.6,5.35)(4.6,5.4)(4.6,5.45)(4.6,5.5)(4.6,5.55)(4.6,5.6)(4.6,5.65)
(4.7,5.25)(4.7,5.35)(4.7,5.45)(4.7,5.55)(4.7,5.65)(4.7,5.7)
(4.8,5.25)(4.8,5.35)(4.8,5.45)(4.8,5.55)(4.8,5.65)(4.8,5.75)
(4.9,5.25)(4.9,5.35)(4.9,5.45)(4.9,5.55)(4.9,5.6)
(5,5.15)(5,5.25)(5,5.35)(5,5.45)(5,5.55)(5,5.65)(5,5.68)
(5.1,5.2)(5.1,5.3)(5.1,5.4)(5.1,5.5)(5.1,5.6)(5.1,5.7)
(5.2,5.2)(5.2,5.3)(5.2,5.4)(5.2,5.5)(5.2,5.6)(5.2,5.7)(5.2,5.75)(5.2,5.93)
(5.3,5.3)(5.3,5.4)(5.3,5.5)(5.3,5.6)
(5.4,5.25)(5.4,5.35)(5.4,5.45)(5.4,5.55)(5.4,5.65)(5.4,5.75)
(5.5,5.2)(5.5,5.3)(5.5,5.4)(5.5,5.5)(5.5,5.6)(5.5,5.7)
(5.6,5.2)(5.6,5.3)(5.6,5.4)(5.6,5.5)(5.6,5.6)(5.6,5.65)
(5.7,5.3)(5.7,5.4)(5.7,5.5)(5.7,5.6)(5.7,5.7)
(5.8,5.2)(5.8,5.3)(5.8,5.4)(5.8,5.5)(5.8,5.6)(5.8,5.7)
(5.9,5.3)(5.9,5.4)(5.9,5.5)(5.9,5.6)(5.9,5.7)(5.9,5.8)(5.9,5.9)(5.9,5.95)
(6,5.45)(6,5.55)(6,5.65)(6,5.75)(6,5.85)(6,5.95)(6,6.24)
(6.1,5.45)(6.1,5.55)(6.1,5.65)(6.1,5.75)(6.1,5.85)(6.1,5.95)(6.1,6.05)(6.1,6.2)(6.1,6.28)
(6.2,5.42)(6.2,5.5)(6.2,5.6)(6.2,5.7)(6.2,5.95)(6.2,6.25)(6.2,6.35)
(6.3,5.33)(6.3,5.4)(6.3,5.5)(6.3,5.65)(6.3,5.7)(6.3,6)(6.3,6.15)(6.3,6.25)(6.3,6.35)
(6.4,5.35)(6.4,5.45)(6.4,5.55)(6.4,5.6)(6.4,5.7)(6.4,5.85)(6.4,5.92)(6.4,6.3)(6.4,6.4)
(6.5,6.55)(6.5,6.65)(6.5,6.75)(6.5,6.85)(6.5,6.9)
(6.6,6.6)(6.6,6.7)(6.6,6.8)(6.6,6.88)
(6.7,6.75)(6.7,6.85)
(6.8,6.75)(6.8,6.85)(6.8,6.92)
(6.9,6.8)(6.9,6.9)(6.9,6.97)
(7,6.83)(7,6.9)(7,6.97)
(7.1,6.85)(7.1,6.95)(7.1,7.05)(7.1,7.15)
(7.2,6.75)(7.2,6.85)(7.2,6.93)
(7.3,6.72)(7.3,6.8)(7.3,6.9)(7.3,7.22)
(7.4,6.92)(7.4,7.3)(7.4,7.4)(7.4,7.48)
(7.5,6.78)(7.5,6.85)(7.5,7.3)(7.5,7.4)(7.5,7.55)
(7.6,7.7)(7.6,7.78)(7.6,7.87)
(7.7,7.77)
(7.8,7.73)(7.8,7.8)(7.8,7.87)
};
\node[font=\lf] at (axis description cs:0.833,0.117) {R² = 0.54};
\end{axis}
\begin{axis}[over,at={(576bp,69bp)},width=385.5bp,height=188bp]
\addplot[no markers,draw=tD,line width=5.4bp,line cap=round,dash pattern=on 0pt off 11.6bp] coordinates {(4,4.05)(7.8,7.87)};
\end{axis}
\end{tikzpicture}
\end{document}
